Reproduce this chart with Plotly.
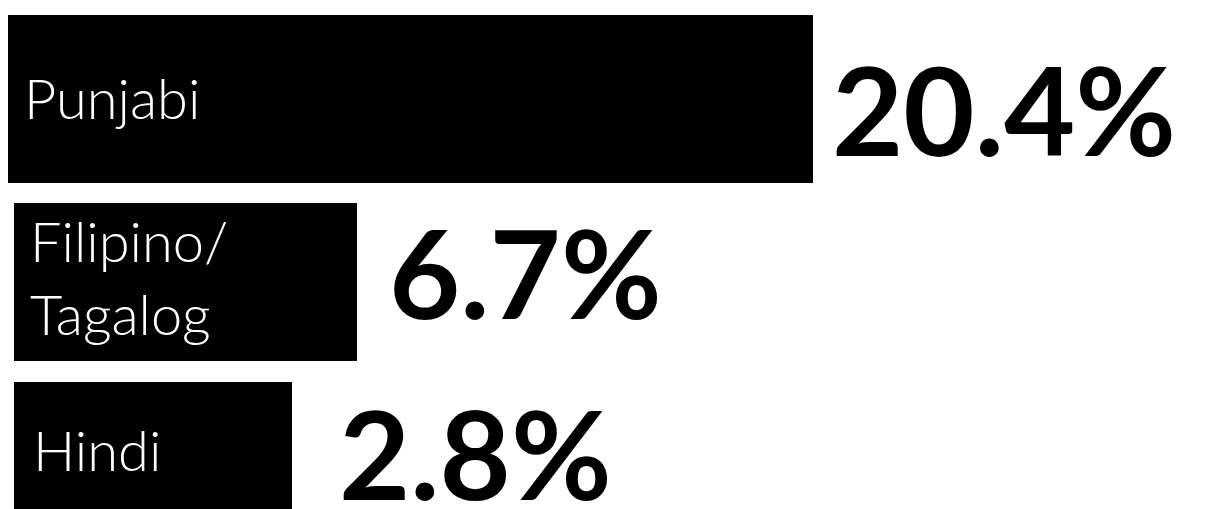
import plotly.graph_objects as go

# ---- data ----
languages = ["Punjabi", "Filipino/Tagalog", "Hindi"]
label_text = ["Punjabi", "Filipino/<br>Tagalog", "Hindi"]
shares = [20.4, 6.7, 2.8]          # percent (printed values)
# drawn bar lengths in the same units (the original design does not scale bars
# strictly to the shares; these are the lengths as they appear)
bar_lengths = [20.4, 8.69, 7.05]

# ---- layout helpers (target pixels -> axis units) ----
PAGE_OFFSET = 8                    # default body margin of the html page
W, H = 1213 - PAGE_OFFSET, 509 - PAGE_OFFSET
PX_X = 805 / 20.4
X0_PX = 14 - PAGE_OFFSET
x_range = [-X0_PX / PX_X, (W - X0_PX) / PX_X]

PX_Y = 175
Y0_PX = 99 - PAGE_OFFSET
y_range = [(H - Y0_PX) / PX_Y, -Y0_PX / PX_Y]   # reversed: first category on top

bar_top_px = [15, 203, 382]
bar_bot_px = [183, 361, 518]
bar_widths = [(b - t) / PX_Y for t, b in zip(bar_top_px, bar_bot_px)]
bar_offsets = [(t - (99 + i * PX_Y)) / PX_Y for i, t in enumerate(bar_top_px)]
bar_base = [-6 / PX_X, 0, 0]

fig = go.Figure()
fig.add_trace(go.Bar(
    y=languages, x=bar_lengths, base=bar_base, orientation="h",
    width=bar_widths, offset=bar_offsets,
    marker=dict(color="#000000", line=dict(width=0)),
    hoverinfo="skip", showlegend=False,
))

label_xshift = [14, 14, 17]
label_yshift = [2, -3, 0]
value_xshift = [17, 30, 45]
value_yshift = [-9, 3, -3]

annotations = []
for i, lang in enumerate(languages):
    annotations.append(dict(
        x=bar_base[i], y=lang, xref="x", yref="y", text=label_text[i],
        showarrow=False, xanchor="left", yanchor="middle", align="left",
        xshift=label_xshift[i], yshift=label_yshift[i],
        font=dict(family="Lato", size=56, color="#ffffff", weight=300),
    ))
    annotations.append(dict(
        x=bar_base[i] + bar_lengths[i], y=lang, xref="x", yref="y",
        text=f"{shares[i]:.1f}%",
        showarrow=False, xanchor="left", yanchor="middle",
        xshift=value_xshift[i], yshift=value_yshift[i],
        font=dict(family="Lato", size=123, color="#000000", weight="bold"),
    ))

fig.update_layout(
    width=W, height=H,
    margin=dict(l=0, r=0, t=0, b=0),
    paper_bgcolor="#ffffff", plot_bgcolor="#ffffff",
    xaxis=dict(range=x_range, visible=False, fixedrange=True),
    yaxis=dict(range=y_range, visible=False, type="category", fixedrange=True),
    annotations=annotations,
    bargap=0,
)

fig.write_html("out.html")
